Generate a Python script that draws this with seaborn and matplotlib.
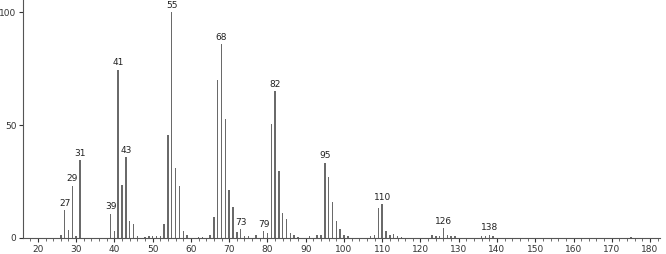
import matplotlib
matplotlib.use("Agg")
import matplotlib.pyplot as plt
import seaborn as sns
import pandas as pd
import numpy as np
from matplotlib.ticker import MultipleLocator

mz = [26, 27, 28, 29, 30, 31, 39, 40, 41, 42, 43, 44, 45, 46,
      48, 49, 50, 51, 52, 53, 54, 55, 56, 57, 58, 59, 62, 63, 65,
      66, 67, 68, 69, 70, 71, 72, 73, 74, 75, 77, 79, 80, 81, 82,
      83, 84, 85, 86, 87, 88, 91, 93, 94, 95, 96, 97, 98, 99, 100, 101,
      107, 108, 109, 110, 111, 112, 113, 114, 115,
      123, 124, 125, 126, 127, 128, 129, 136, 137, 138, 139, 175]
intensity = [1.5, 12.3, 3.4, 23.2, 1.0, 34.6, 10.8, 3.1, 74.6, 23.5, 35.7, 7.6, 6.4, 1.0,
             0.6, 0.8, 0.7, 1.0, 0.8, 6.4, 45.7, 100.0, 30.9, 23.0, 3.2, 1.5, 0.5, 0.5, 1.5,
             9.5, 70.2, 85.8, 52.9, 21.2, 13.7, 2.7, 3.9, 1.0, 1.0, 1.5, 3.0, 2.4, 50.5, 65.0,
             29.8, 11.1, 8.2, 2.1, 1.5, 0.5, 0.7, 1.5, 1.5, 33.4, 26.9, 15.9, 7.6, 3.9, 1.5, 0.7,
             1.0, 1.5, 13.4, 15.0, 3.0, 1.5, 1.7, 0.7, 0.5,
             1.5, 1.0, 1.0, 4.3, 1.5, 1.0, 0.8, 1.0, 1.0, 1.5, 0.7, 0.5]
labelled = [27, 29, 31, 39, 41, 43, 55, 68, 73, 79, 82, 95, 110, 126, 138]

df = pd.DataFrame({"mz": mz, "intensity": intensity})

sns.set_style("white")
fig = plt.figure(figsize=(6.66, 2.54), dpi=100)
ax = fig.add_axes([0.035, 0.063, 0.956, 0.937])

sns.barplot(data=df, x="mz", y="intensity", native_scale=True, width=0.38,
            color="#6a6a6a", saturation=1, linewidth=0, ax=ax, errorbar=None)

lookup = dict(zip(mz, intensity))
for m in labelled:
    ax.text(m, lookup[m] + 1.0, str(m), ha="center", va="bottom",
            fontsize=6.5, color="#222222", clip_on=False)

ax.set_xlim(16.2, 182.6)
ax.set_ylim(0, 105.5)
ax.xaxis.set_major_locator(MultipleLocator(10))
ax.xaxis.set_minor_locator(MultipleLocator(2))
ax.set_yticks([0, 50, 100])
ax.tick_params(axis="both", which="major", direction="out", length=3, width=0.8,
               labelsize=6.5, colors="#333333", pad=2, bottom=True, left=True)
ax.tick_params(axis="x", which="minor", direction="out", length=2, width=0.6,
               colors="#555555", bottom=True)
ax.set_xlabel("")
ax.set_ylabel("")
for s in ["top", "right"]:
    ax.spines[s].set_visible(False)
for s in ["left", "bottom"]:
    ax.spines[s].set_color("#555555")
    ax.spines[s].set_linewidth(0.8)

fig.savefig("out.png", dpi=100)
